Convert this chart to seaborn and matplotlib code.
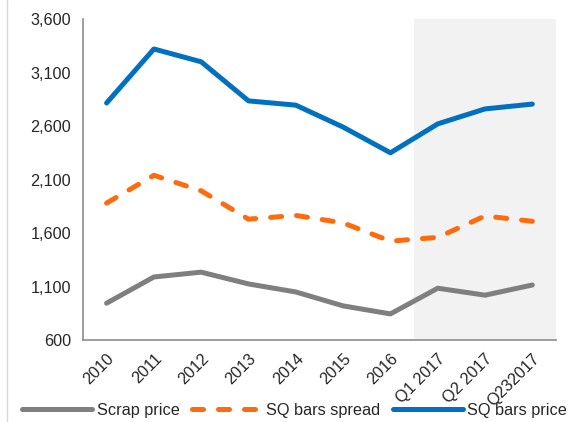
import numpy as np
import pandas as pd
import matplotlib
matplotlib.use("Agg")
import matplotlib.pyplot as plt
import seaborn as sns
from matplotlib.lines import Line2D

# --- data ---
periods = ["2010", "2011", "2012", "2013", "2014", "2015", "2016",
           "Q1 2017", "Q2 2017", "Q232017"]
scrap_price = [945, 1190, 1235, 1125, 1050, 920, 845, 1085, 1020, 1115]
sq_bars_spread = [1880, 2140, 1995, 1730, 1765, 1695, 1525, 1560, 1760, 1710]
sq_bars_price = [2815, 3320, 3200, 2835, 2795, 2590, 2350, 2620, 2760, 2805]

series = ["Scrap price", "SQ bars spread", "SQ bars price"]
colors = ["#7f7f7f", "#ff6a0c", "#0070c0"]
dash = (2.2, 3.0)

df = pd.DataFrame({
    "pos": np.arange(len(periods)),
    "Scrap price": scrap_price,
    "SQ bars spread": sq_bars_spread,
    "SQ bars price": sq_bars_price,
})
long = df.melt(id_vars="pos", var_name="series", value_name="value")

sns.set_style("white")
plt.rcParams["font.family"] = ["Liberation Sans", "DejaVu Sans"]

fig = plt.figure(figsize=(5.72, 4.22), dpi=100)
ax = fig.add_axes([0.145, 0.194, 0.827, 0.761])

# shaded area for the 2017 quarters
ax.axvspan(6.5, 9.5, color="#f2f2f2", zorder=0, lw=0)

sns.lineplot(data=long, x="pos", y="value", hue="series", hue_order=series,
             palette=colors, style="series", style_order=series,
             dashes={"Scrap price": "", "SQ bars spread": dash,
                     "SQ bars price": ""},
             linewidth=3.6, legend=False, ax=ax)
for ln in ax.get_lines():
    ln.set_dash_capstyle("round")
    ln.set_solid_capstyle("round")

ax.set_xlim(-0.5, 9.5)
ax.set_ylim(600, 3600)
ax.set_yticks(np.arange(600, 3601, 500))
ax.set_yticklabels([f"{v:,}" for v in range(600, 3601, 500)])
ax.set_xticks(np.arange(len(periods)))
ax.set_xticklabels(periods, rotation=45, ha="right", rotation_mode="anchor")
ax.set_xticks(np.arange(-0.5, 10, 1), minor=True)
ax.tick_params(axis="x", which="major", length=0, labelsize=11.7, pad=8)
ax.tick_params(axis="x", which="minor", length=5, color="#8c8c8c", width=1.2,
               direction="out")
ax.tick_params(axis="y", length=5, color="#8c8c8c", width=1.2, labelsize=11.7,
               direction="out")
ax.set_xlabel("")
ax.set_ylabel("")
for s in ["top", "right"]:
    ax.spines[s].set_visible(False)
for s in ["left", "bottom"]:
    ax.spines[s].set_color("#8c8c8c")
    ax.spines[s].set_linewidth(1.2)

# legend along the bottom
handles = [
    Line2D([], [], color=colors[0], lw=3.6, solid_capstyle="round"),
    Line2D([], [], color=colors[1], lw=3.6, dashes=dash,
           dash_capstyle="round"),
    Line2D([], [], color=colors[2], lw=3.6, solid_capstyle="round"),
]
fig.legend(handles, series, loc="lower center", bbox_to_anchor=(0.515, -0.025),
           ncol=3, frameon=False, fontsize=11.7, handlelength=4.3,
           columnspacing=0.75, handletextpad=0.3)

# faint left border
fig.add_artist(Line2D([0.012, 0.012], [0.0, 1.0], color="#d9d9d9", lw=1,
                      transform=fig.transFigure))

fig.savefig("out.png", dpi=100)
